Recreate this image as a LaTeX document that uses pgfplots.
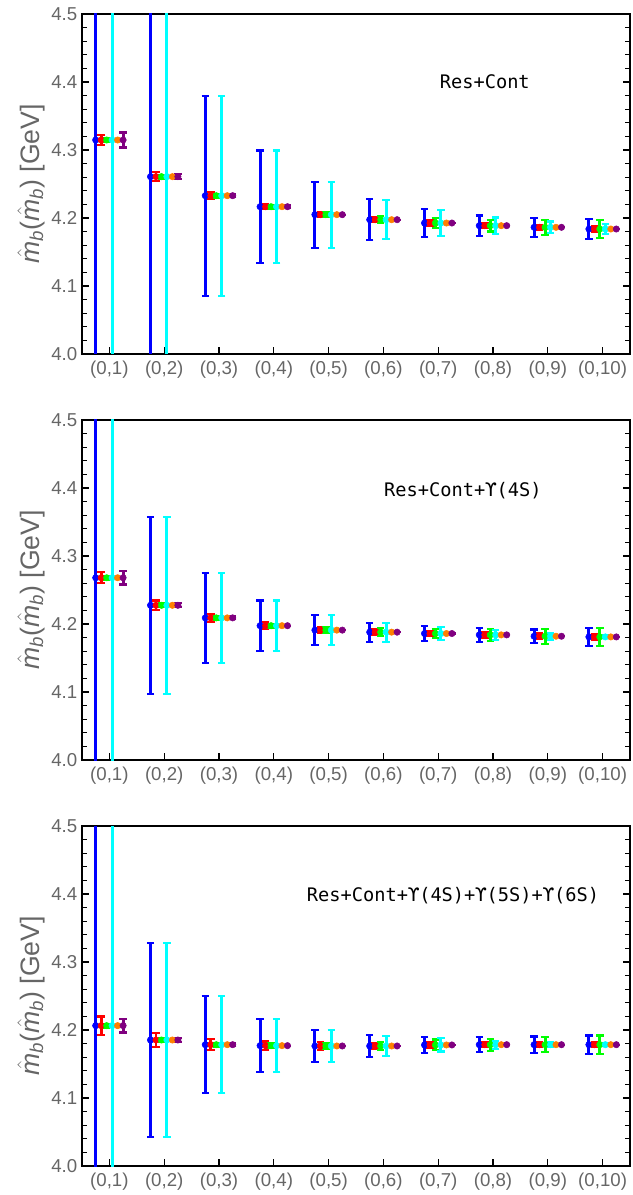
\documentclass[border=0pt]{standalone}
\usepackage{amsmath}
\usepackage{fontspec}
\setmainfont{Liberation Sans}
\newfontfamily\monofont{DejaVu Sans Mono}
\usepackage{pgfplots}
\usepackage{pgfplotstable}
\pgfplotsset{compat=1.18}

% columns: n, centre y, errors of blue, red, green, cyan, purple
\pgfplotstableread{
n  y       eb      er      eg      ec      ep
1  4.3147  1.0     0.007   0.003   1.0     0.011
2  4.2608  1.0     0.0065  0.003   1.0     0.004
3  4.2328  0.147   0.005   0.003   0.147   0.002
4  4.2166  0.0826  0.004   0.003   0.0826  0.002
5  4.2049  0.0486  0.004   0.004   0.0486  0.0
6  4.1975  0.030   0.004   0.005   0.029   0.0
7  4.1926  0.020   0.004   0.007   0.019   0.0
8  4.1887  0.015   0.004   0.0086  0.012   0.0
9  4.1863  0.0137  0.004   0.011   0.0086  0.0
10 4.1838  0.0147  0.004   0.0137  0.007   0.0
}\tabA
\pgfplotstableread{
n  y       eb      er      eg      ec      ep
1  4.2680  1.0     0.008   0.003   1.0     0.010
2  4.2275  0.130   0.007   0.003   0.130   0.003
3  4.2090  0.066   0.006   0.003   0.066   0.002
4  4.1975  0.037   0.005   0.003   0.037   0.0
5  4.1910  0.022   0.004   0.004   0.022   0.0
6  4.1880  0.014   0.004   0.006   0.014   0.0
7  4.1860  0.0105  0.004   0.007   0.009   0.0
8  4.1840  0.010   0.004   0.009   0.007   0.0
9  4.1820  0.010   0.004   0.011   0.005   0.0
10 4.1810  0.013   0.004   0.013   0.002   0.0
}\tabB
\pgfplotstableread{
n  y       eb      er      eg      ec      ep
1  4.2064  1.0     0.0135  0.003   1.0     0.010
2  4.1853  0.143   0.010   0.003   0.143   0.003
3  4.1784  0.071   0.008   0.003   0.071   0.002
4  4.1770  0.039   0.006   0.004   0.039   0.0
5  4.1765  0.024   0.006   0.005   0.023   0.0
6  4.1765  0.016   0.005   0.006   0.0145  0.0
7  4.1780  0.012   0.004   0.008   0.0097  0.0
8  4.1784  0.011   0.004   0.009   0.006   0.0
9  4.1784  0.012   0.004   0.011   0.004   0.0
10 4.1784  0.0135  0.004   0.0135  0.002   0.0
}\tabC

\definecolor{mblue}{rgb}{0,0,1}
\definecolor{mred}{rgb}{1,0,0}
\definecolor{mgreen}{rgb}{0,1,0}
\definecolor{mcyan}{rgb}{0,1,1}
\definecolor{morange}{rgb}{1,0.5,0}
\definecolor{mpurple}{rgb}{0.5,0,0.5}
\definecolor{ticklab}{gray}{0.4}

\pgfplotsset{
  every error bar/.append style={line width=2.2pt},
  panel/.style={
    scale only axis, width=411pt, height=255pt,
    xmin=0.5, xmax=10.5, ymin=4, ymax=4.5,
    xtick={1,...,10},
    xticklabels={(0{,}1),(0{,}2),(0{,}3),(0{,}4),(0{,}5),(0{,}6),(0{,}7),(0{,}8),(0{,}9),(0{,}10)},
    ytick={4,4.1,4.2,4.3,4.4,4.5},
    minor y tick num=4,
    xtick pos=bottom,
    tick align=inside,
    major tick length=5.5pt, minor tick length=3.5pt,
    every tick/.style={black, line width=1pt},
    axis line style={line width=1.3pt},
    yticklabel style={/pgf/number format/fixed, /pgf/number format/fixed zerofill, /pgf/number format/precision=1},
    xticklabel style={yshift=-2pt},
    /pgf/number format/assume math mode=true,
    tick label style={font=\fontsize{14}{16}\selectfont, color=ticklab},
    ylabel={$\hat{\text{\itshape m}}_{\text{\itshape b}}$($\hat{\text{\itshape m}}_{\text{\itshape b}}$) [GeV]},
    ylabel style={font=\fontsize{20}{22}\selectfont, color=ticklab, at={(axis description cs:-0.093,0.5)}, anchor=center, rotate=0},
  },
  ser/.style={only marks, mark=*, mark size=2.4pt, color=#1,
    mark options={solid, fill=#1, draw=#1, line width=0.4pt},
    error bars/.cd, y dir=both, y explicit,
    error bar style={line width=2.2pt, solid},
    error mark options={rotate=90, mark size=2.8pt, line width=1.6pt}},
  plain/.style={only marks, mark=*, mark size=2.4pt, color=#1, mark options={solid, fill=#1, draw=#1}},
}

\newcommand{\series}[1]{%
  \addplot[ser=mblue] table[x expr=\thisrow{n}-0.25, y=y, y error=eb] {#1};
  \addplot[ser=mred] table[x expr=\thisrow{n}-0.15, y=y, y error=er] {#1};
  \addplot[ser=mgreen] table[x expr=\thisrow{n}-0.05, y=y, y error=eg] {#1};
  \addplot[ser=mcyan] table[x expr=\thisrow{n}+0.05, y=y, y error=ec] {#1};
  \addplot[plain=morange] table[x expr=\thisrow{n}+0.15, y=y] {#1};
  \addplot[ser=mpurple] table[x expr=\thisrow{n}+0.25, y=y, y error=ep] {#1};
}

\begin{document}
\begin{tikzpicture}
\begin{axis}[panel, anchor=north west, at={(0pt,0pt)}]
\series{\tabA}
\node[font=\monofont\fontsize{14}{16}\selectfont] at (axis cs:7.85,4.4) {Res+Cont};
\end{axis}
\begin{axis}[panel, anchor=north west, at={(0pt,-304.5pt)}]
\series{\tabB}
\node[font=\monofont\fontsize{14}{16}\selectfont] at (axis cs:7.45,4.396) {Res+Cont+ϒ(4S)};
\end{axis}
\begin{axis}[panel, anchor=north west, at={(0pt,-609pt)}]
\series{\tabC}
\node[font=\monofont\fontsize{14}{16}\selectfont] at (axis cs:7.27,4.397) {Res+Cont+ϒ(4S)+ϒ(5S)+ϒ(6S)};
\end{axis}
\pgfresetboundingbox
\path[use as bounding box] (-61.5pt,10.5pt) rectangle (412.5pt,-885.75pt);
\end{tikzpicture}
\end{document}
